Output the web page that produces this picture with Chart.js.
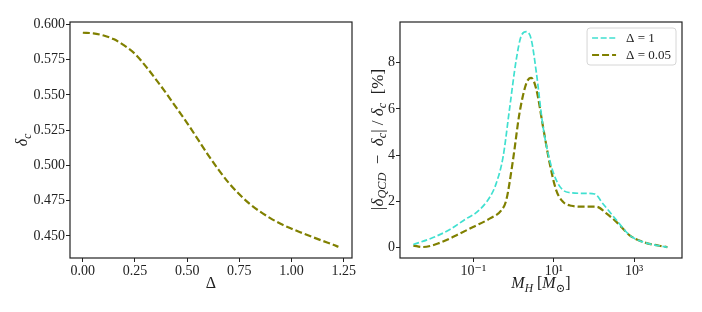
<!DOCTYPE html>
<html>
<head>
<meta charset="utf-8">
<script src="https://cdn.jsdelivr.net/npm/chart.js@4.4.0/dist/chart.umd.min.js"></script>
<style>
  html, body { margin: 0; padding: 0; background: #fff; }
  #wrap { position: relative; width: 702px; height: 312px; }
  #left { position: absolute; left: 0; top: 0; }
  #right { position: absolute; left: 360px; top: 0; }
</style>
</head>
<body>
<div id="wrap">
  <canvas id="left" width="360" height="312"></canvas>
  <canvas id="right" width="342" height="312"></canvas>
</div>
<script>
// left panel: critical threshold vs Delta
const deltaVals = [0, 0.05, 0.1, 0.15, 0.2, 0.25, 0.3, 0.35, 0.4, 0.45, 0.5, 0.55, 0.6, 0.65, 0.7, 0.75, 0.8, 0.85, 0.9, 0.95, 1.0, 1.05, 1.1, 1.15, 1.2, 1.225];
const deltaCrit = [0.594, 0.5936, 0.592, 0.5893, 0.5848, 0.579, 0.5705, 0.561, 0.551, 0.5405, 0.530, 0.5188, 0.5075, 0.497, 0.4875, 0.4795, 0.4727, 0.4672, 0.4625, 0.4585, 0.4552, 0.4522, 0.4493, 0.4465, 0.4438, 0.4423];

// right panel: relative deviation vs horizon mass
const massD1 = [0.0032, 0.0099, 0.026, 0.068, 0.12, 0.26, 0.37, 0.55, 0.79, 1.17, 1.55, 2.1, 2.75, 3.7, 5.4, 7.9, 11.5, 17, 25, 54, 105, 166, 363, 776, 1660, 6760];
const devD1 = [0.12, 0.42, 0.77, 1.25, 1.51, 2.19, 2.77, 3.93, 5.97, 8.15, 9.16, 9.35, 9.02, 7.57, 5.24, 3.79, 2.92, 2.48, 2.37, 2.34, 2.31, 1.90, 1.18, 0.52, 0.23, 0.0];
const massD005 = [0.0032, 0.0056, 0.0145, 0.038, 0.098, 0.26, 0.50, 0.66, 0.97, 1.41, 2.1, 2.75, 3.7, 5.4, 7.9, 11.5, 17, 27.5, 54, 115, 204, 363, 776, 1660, 6760];
const devD005 = [0.07, 0.01, 0.19, 0.52, 0.88, 1.25, 1.61, 2.05, 3.79, 5.83, 7.13, 7.35, 6.84, 5.24, 3.65, 2.48, 1.97, 1.80, 1.76, 1.76, 1.47, 1.10, 0.52, 0.23, 0.0];

const leftXTicks = [0, 0.25, 0.5, 0.75, 1.0, 1.25];
const leftYTicks = [0.45, 0.475, 0.5, 0.525, 0.55, 0.575, 0.6];
const rightXTicks = [0.1, 10, 1000];
const rightXLabels = ["10⁻¹", "10¹", "10³"];
const rightYTicks = [0, 2, 4, 6, 8];

const FONT = "'Liberation Serif', 'DejaVu Serif', serif";
const INK = "#222";
const OLIVE = "#808000";
const TURQ = "#40e0d0";

const pts = (xs, ys) => xs.map((x, i) => ({ x, y: ys[i] }));

// draws a label made of pieces, some italic, some subscript
function drawRich(ctx, segs, cx, cy, size, rotate) {
  const fontOf = s => `${s.it ? "italic " : ""}${s.sub ? size * 0.72 : size}px ${FONT}`;
  let total = 0;
  segs.forEach(s => { ctx.font = fontOf(s); total += ctx.measureText(s.t).width; });
  ctx.save();
  ctx.translate(cx, cy);
  if (rotate) ctx.rotate(-Math.PI / 2);
  ctx.fillStyle = INK;
  ctx.textBaseline = "alphabetic";
  let x = -total / 2;
  const base = size * 0.33;
  segs.forEach(s => {
    ctx.font = fontOf(s);
    ctx.fillText(s.t, x, base + (s.sub ? size * 0.22 : 0));
    x += ctx.measureText(s.t).width;
  });
  ctx.restore();
}

const framePlugin = {
  id: "frame",
  afterDraw(chart) {
    const { ctx, chartArea: a } = chart;
    ctx.save();
    ctx.strokeStyle = INK;
    ctx.lineWidth = 1.2;
    ctx.strokeRect(a.left, a.top, a.right - a.left, a.bottom - a.top);
    ctx.restore();
    const t = chart.options.plugins.frame;
    if (t.xTitle) drawRich(ctx, t.xTitle, (a.left + a.right) / 2, t.xTitleY, 16, false);
    if (t.yTitle) drawRich(ctx, t.yTitle, t.yTitleX, (a.top + a.bottom) / 2, t.ySize || 16, true);
  }
};

const legendPlugin = {
  id: "boxLegend",
  afterDraw(chart) {
    if (!chart.options.plugins.boxLegend.show) return;
    const { ctx, chartArea: a } = chart;
    const items = chart.data.datasets;
    ctx.save();
    ctx.font = `13px ${FONT}`;
    const textW = Math.max(...items.map(d => ctx.measureText(d.label).width));
    const w = 5 + 24 + 10 + textW + 5;
    const h = items.length * 17 + 3;
    const x0 = a.right - 6 - w, y0 = a.top + 6;
    ctx.fillStyle = "rgba(255,255,255,0.85)";
    ctx.strokeStyle = "#d6d6d6";
    ctx.lineWidth = 1;
    ctx.beginPath();
    ctx.roundRect(x0, y0, w, h, 3);
    ctx.fill();
    ctx.stroke();
    items.forEach((d, i) => {
      const y = y0 + 10 + i * 17;
      ctx.strokeStyle = d.borderColor;
      ctx.lineWidth = d.borderWidth;
      ctx.setLineDash(d.borderDash);
      ctx.beginPath();
      ctx.moveTo(x0 + 5, y);
      ctx.lineTo(x0 + 29, y);
      ctx.stroke();
      ctx.setLineDash([]);
      ctx.fillStyle = INK;
      ctx.textBaseline = "middle";
      ctx.fillText(d.label, x0 + 39, y + 1);
    });
    ctx.restore();
  }
};

function axis(extra) {
  return Object.assign({
    ticks: { font: { family: FONT, size: 14 }, color: INK, padding: 1, autoSkip: false, maxRotation: 0 },
    grid: { drawOnChartArea: false, drawTicks: true, tickLength: 4, color: INK, tickWidth: 1 },
    border: { display: false }
  }, extra);
}

const common = {
  responsive: false,
  animation: false,
  events: [],
  elements: { point: { radius: 0 }, line: { cubicInterpolationMode: "monotone" } }
};

const leftChart = new Chart(document.getElementById("left").getContext("2d"), {
  type: "line",
  data: {
    datasets: [{
      label: "δc",
      data: pts(deltaVals, deltaCrit),
      borderColor: OLIVE,
      borderWidth: 2.2,
      borderDash: [7, 3],
      fill: false
    }]
  },
  options: Object.assign({}, common, {
    layout: { padding: { left: 0, top: 22, right: 8, bottom: 0 } },
    plugins: {
      legend: { display: false },
      tooltip: { enabled: false },
      boxLegend: { show: false },
      frame: {
        xTitle: [{ t: "Δ" }], xTitleY: 283,
        yTitle: [{ t: "δ", it: true }, { t: "c", it: true, sub: true }], yTitleX: 22
      }
    },
    scales: {
      x: axis({
        type: "linear", min: -0.0615, max: 1.29,
        afterBuildTicks: s => { s.ticks = leftXTicks.map(v => ({ value: v })); },
        afterFit: s => { s.height = 54; }
      }),
      y: axis({
        type: "linear", min: 0.4344, max: 0.6016,
        afterBuildTicks: s => { s.ticks = leftYTicks.map(v => ({ value: v })); },
        afterFit: s => { s.width = 70; }
      })
    }
  }),
  plugins: [framePlugin, legendPlugin]
});
// tick label formats
leftChart.options.scales.x.ticks.callback = v => v.toFixed(2);
leftChart.options.scales.y.ticks.callback = v => v.toFixed(3);
leftChart.update();

const rightChart = new Chart(document.getElementById("right").getContext("2d"), {
  type: "line",
  data: {
    datasets: [
      {
        label: "Δ = 1",
        data: pts(massD1, devD1),
        borderColor: TURQ,
        borderWidth: 1.7,
        borderDash: [6, 2.6],
        fill: false
      },
      {
        label: "Δ = 0.05",
        data: pts(massD005, devD005),
        borderColor: OLIVE,
        borderWidth: 2.2,
        borderDash: [7, 3],
        fill: false
      }
    ]
  },
  options: Object.assign({}, common, {
    layout: { padding: { left: 0, top: 22, right: 20, bottom: 0 } },
    plugins: {
      legend: { display: false },
      tooltip: { enabled: false },
      boxLegend: { show: true },
      frame: {
        xTitle: [{ t: "M", it: true }, { t: "H", it: true, sub: true }, { t: " [" }, { t: "M", it: true }, { t: "⊙", sub: true }, { t: "]" }],
        xTitleY: 283,
        yTitle: [{ t: "|δ", it: true }, { t: "QCD", it: true, sub: true }, { t: "  −  " }, { t: "δ", it: true }, { t: "c", it: true, sub: true }, { t: "| / " }, { t: "δ", it: true }, { t: "c", it: true, sub: true }, { t: "  [%]" }],
        yTitleX: 17,
        ySize: 17
      }
    },
    scales: {
      x: axis({
        type: "logarithmic", min: 0.00149, max: 15600,
        afterBuildTicks: s => { s.ticks = rightXTicks.map(v => ({ value: v })); },
        afterFit: s => { s.height = 54; }
      }),
      y: axis({
        type: "linear", min: -0.466, max: 9.77,
        afterBuildTicks: s => { s.ticks = rightYTicks.map(v => ({ value: v })); },
        afterFit: s => { s.width = 40; }
      })
    }
  }),
  plugins: [framePlugin, legendPlugin]
});
rightChart.options.scales.x.ticks.callback = v => rightXLabels[rightXTicks.indexOf(v)] ?? "";
rightChart.options.scales.y.ticks.callback = v => String(v);
rightChart.update();
</script>
</body>
</html>
